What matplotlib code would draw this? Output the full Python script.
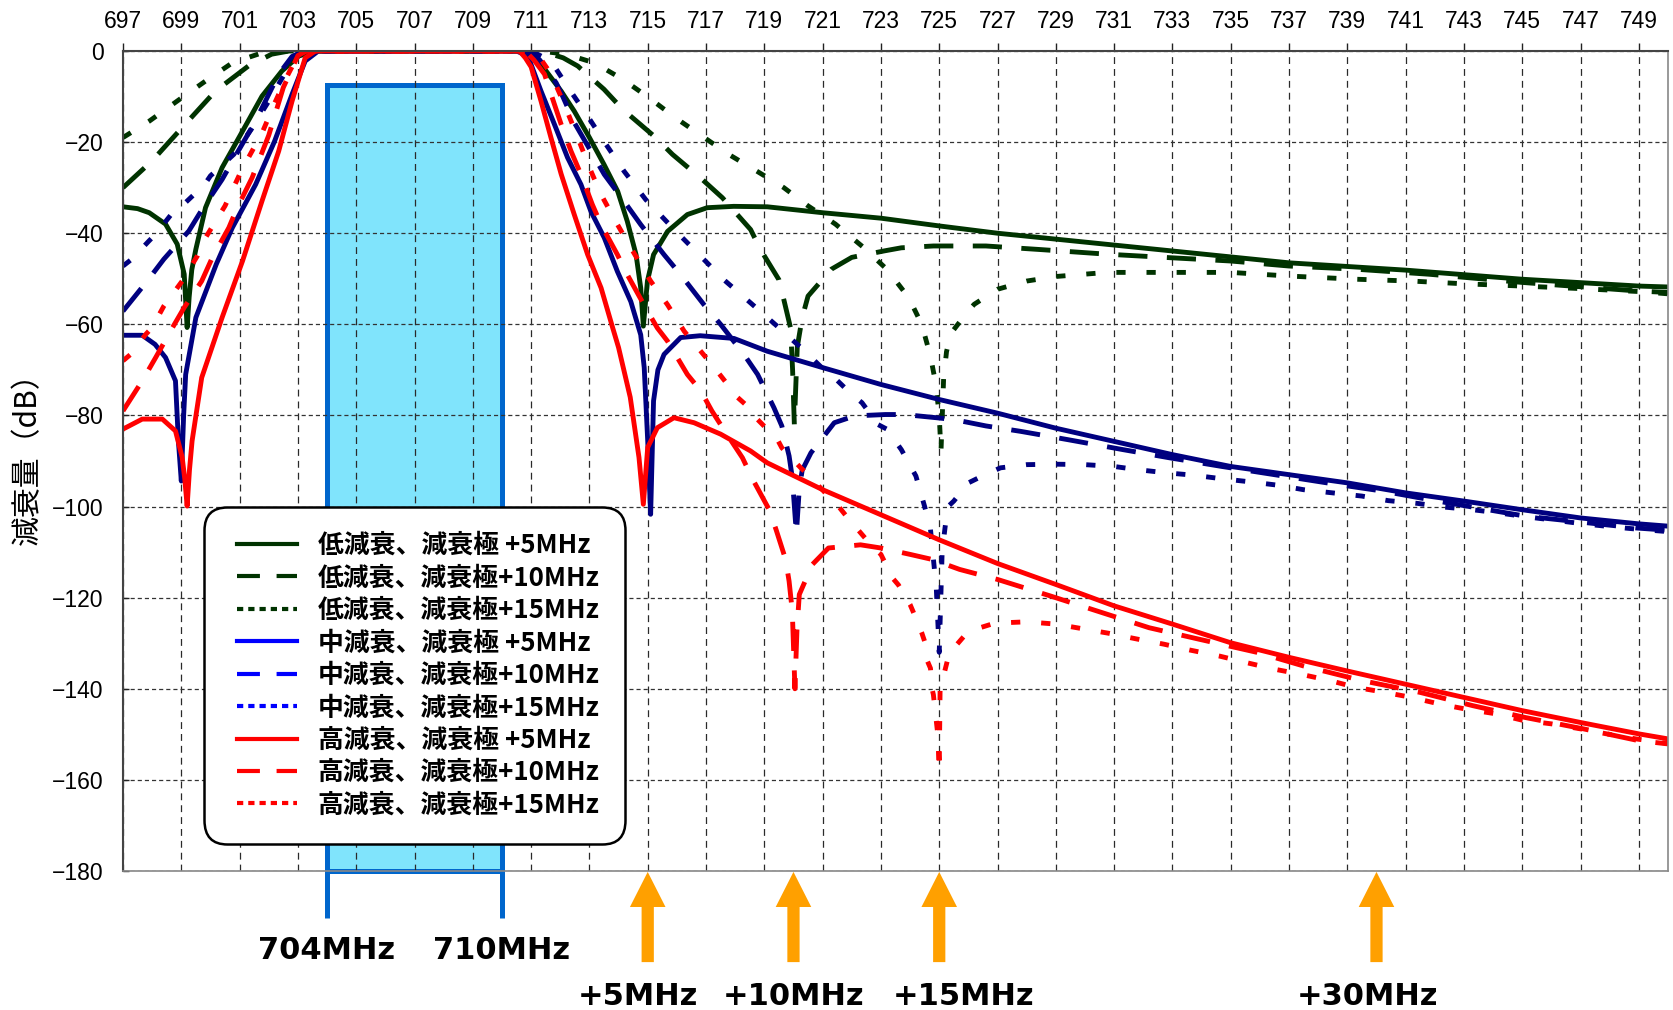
import matplotlib
matplotlib.use('Agg')
import matplotlib.pyplot as plt
from matplotlib.lines import Line2D
from matplotlib.patches import Rectangle, FancyArrow
from matplotlib.legend_handler import HandlerLine2D

plt.rcParams['font.family'] = ['Noto Sans CJK JP', 'DejaVu Sans']
plt.rcParams['axes.unicode_minus'] = True

# ---------------- data (frequency MHz, attenuation dB) ----------------
low5_f = [697.0, 697.5, 697.9, 698.46, 698.86, 699.1, 699.2, 699.27, 699.36, 699.5, 699.83, 700.4, 701.1, 701.77, 702.45, 703.03, 703.6,
          710.6, 711.0, 711.34, 712.03, 712.48, 713.0, 713.5, 713.97, 714.3, 714.6, 714.76, 714.85, 714.99, 715.2, 715.68, 716.36, 717.04,
          717.95, 719.1, 721.0, 723.0, 725.0, 727.0, 729.0, 731.0, 733.0, 737.0, 741.0, 745.0, 749.0, 750.0]
low5_db = [-34.2, -34.6, -35.5, -38.0, -42.4, -49.0, -60.7, -54.0, -48.0, -43.5, -34.4, -25.6, -17.6, -9.9, -4.4, -1.1, 0,
           0, -0.7, -2.9, -8.8, -13.2, -19.0, -24.9, -30.8, -37.4, -44.7, -52.0, -60.4, -50.5, -44.7, -39.6, -35.9, -34.4,
           -34.1, -34.2, -35.5, -36.7, -38.4, -40.0, -41.3, -42.6, -43.9, -46.5, -48.1, -50.1, -51.6, -51.8]

low10_f = [697.0, 698.0, 699.03, 700.17, 701.3, 702.1, 702.7, 711.2, 711.6, 712.1, 712.6, 713.5, 714.14, 715.22, 715.85, 716.87,
           717.56, 718.53, 718.87, 719.5, 719.67, 719.9, 719.97, 720.03, 720.13, 720.3, 720.5, 721.3, 722.0, 723.1, 723.7, 724.8,
           726.6, 728.5, 730.75, 733.0, 735.0, 737.0, 739.3, 741.8, 745.0, 749.0, 750.0]
low10_db = [-30.0, -24.1, -16.8, -8.8, -3.3, -0.7, 0, 0, -0.5, -1.5, -3.3, -8.4, -12.8, -18.7, -22.7, -28.2,
            -32.2, -39.2, -43.6, -50.2, -54.6, -60.8, -70.0, -82.0, -65.0, -58.5, -53.8, -47.9, -45.3, -43.9, -43.2, -42.8,
            -42.8, -43.6, -44.6, -45.4, -46.1, -47.2, -47.9, -49.0, -50.8, -52.7, -53.0]

low15_f = [697.0, 697.9, 699.03, 699.83, 700.75, 701.77, 702.2, 711.3, 712.2, 713.17, 714.14, 715.05, 715.96, 716.87, 717.78,
           718.75, 719.67, 720.5, 721.44, 722.4, 723.2, 723.95, 724.4, 724.7, 724.88, 725.0, 725.06, 725.15, 725.25, 725.4,
           726.0, 726.2, 727.0, 728.0, 729.0, 730.75, 733.0, 735.0, 737.0, 739.3, 741.2, 743.0, 745.0, 746.8, 749.0, 750.0]
low15_db = [-19.0, -15.4, -10.2, -6.6, -2.6, -0.4, 0, 0, -0.7, -2.6, -6.2, -10.3, -14.7, -18.7, -22.7,
            -26.4, -30.0, -34.0, -38.0, -43.1, -47.9, -54.1, -60.0, -67.0, -73.0, -80.0, -88.0, -72.0, -66.0, -62.0,
            -57.0, -55.6, -52.3, -50.5, -49.5, -48.6, -48.6, -48.6, -49.4, -50.1, -50.5, -51.1, -51.6, -52.1, -52.8, -53.3]

mid5_f = [697.0, 697.66, 698.1, 698.46, 698.8, 698.9, 699.0, 699.08, 699.15, 699.5, 700.2, 700.75, 701.55, 702.2, 702.8, 703.25,
          703.7, 710.5, 710.89, 711.34, 711.8, 712.25, 712.71, 713.05, 713.51, 713.96, 714.42, 714.76, 714.88, 715.0, 715.1,
          715.2, 715.35, 715.56, 716.13, 716.8, 717.96, 719.1, 721.0, 723.0, 725.0, 727.0, 729.0, 731.0, 733.0, 735.0, 737.0,
          739.0, 741.0, 743.0, 745.0, 747.0, 749.0, 750.0]
mid5_db = [-62.4, -62.4, -64.4, -67.3, -72.4, -85.6, -94.4, -80.0, -71.0, -58.5, -46.8, -38.8, -29.3, -19.8, -9.5, -2.2,
           0, 0, -1.1, -8.8, -16.1, -23.4, -29.3, -35.2, -41.0, -48.4, -55.0, -62.3, -69.5, -85.6, -101.7,
           -76.8, -70.0, -66.6, -62.9, -62.5, -63.1, -65.9, -69.5, -73.2, -76.5, -79.5, -82.8, -85.7, -88.6, -91.2, -93.0,
           -94.8, -97.0, -98.8, -100.7, -102.5, -103.8, -104.3]

mid10_f = [697.0, 697.83, 698.4, 699.26, 699.72, 700.4, 700.86, 701.49, 701.77, 702.34, 702.8, 703.2, 710.9, 711.3, 711.86,
           712.08, 712.48, 713.05, 713.51, 714.19, 714.76, 715.56, 716.13, 716.93, 717.5, 718.3, 718.77, 719.33, 719.6, 719.85,
           719.96, 720.1, 720.2, 720.3, 720.6, 721.4, 722.1, 723.15, 723.8, 724.9, 725.5, 726.6, 727.8, 729.4, 731.3, 732.9,
           734.7, 736.5, 738.3, 740.2, 742.1, 745.1, 748.9, 750.0]
mid10_db = [-57.1, -50.5, -45.7, -39.5, -34.7, -28.2, -23.0, -16.0, -12.5, -5.1, -1.2, 0, 0, -2.0, -7.0,
            -9.9, -15.7, -22.0, -27.1, -33.0, -38.1, -44.7, -49.1, -55.7, -60.0, -66.6, -71.0, -78.3, -82.3, -88.9,
            -93.7, -106.0, -96.0, -92.0, -88.2, -81.6, -80.1, -79.8, -79.8, -80.5, -80.9, -82.3, -83.5, -85.3, -87.5, -89.3,
            -91.2, -93.0, -94.8, -96.6, -98.8, -102.1, -104.7, -105.2]

mid15_f = [697.0, 697.3, 697.89, 698.12, 698.75, 699.09, 699.8, 700.0, 700.8, 701.4, 702.0, 702.6, 703.0, 703.3, 711.0, 711.68,
           712.31, 712.94, 713.57, 714.19, 714.93, 715.85, 716.7, 717.61, 718.53, 719.44, 720.2, 720.5, 721.1, 721.4, 722.0,
           722.35, 722.9, 723.2, 723.7, 724.2, 724.5, 724.7, 724.9, 725.0, 725.1, 725.2, 725.3, 725.5, 726.0, 726.35, 727.1,
           728.0, 729.0, 730.0, 731.0, 731.8, 732.8, 733.7, 734.7, 735.7, 736.6, 737.5, 738.5, 739.5, 740.4, 741.4, 742.3,
           743.3, 744.2, 745.2, 746.1, 747.1, 748.0, 749.0, 750.0]
mid15_db = [-47.2, -45.7, -41.7, -40.2, -35.1, -33.6, -29.3, -27.4, -22.7, -17.2, -11.0, -4.4, -1.0, 0, 0, -2.2,
            -8.4, -14.3, -20.5, -26.4, -32.6, -38.8, -44.3, -50.2, -55.3, -60.4, -64.8, -66.6, -70.3, -71.7, -75.4,
            -77.2, -82.0, -83.0, -87.5, -93.3, -100.0, -105.0, -118.0, -132.0, -110.0, -104.6, -100.0, -98.8, -94.8, -93.7, -91.5,
            -90.8, -90.7, -90.8, -91.2, -91.9, -92.6, -93.1, -93.9, -94.6, -95.3, -96.3, -97.0, -97.7, -98.7, -99.3, -100.1,
            -100.7, -101.4, -102.3, -103.0, -103.8, -104.4, -105.0, -105.5]

high5_f = [697.0, 697.66, 698.35, 698.8, 699.03, 699.12, 699.2, 699.28, 699.37, 699.7, 700.4, 701.1, 701.77, 702.34, 702.8,
           703.25, 703.6, 710.6, 710.8, 711.0, 711.34, 711.68, 712.03, 712.48, 712.94, 713.4, 713.8, 714.0, 714.4, 714.7,
           714.85, 715.0, 715.33, 715.9, 716.59, 717.5, 718.53, 719.1, 721.0, 723.0, 725.0, 727.0, 729.0, 731.0, 733.0,
           735.0, 737.0, 739.0, 741.0, 743.0, 745.0, 747.0, 749.0, 750.0]
high5_db = [-83.0, -80.8, -80.8, -83.4, -89.2, -94.0, -99.9, -92.0, -85.6, -71.7, -58.5, -46.1, -32.9, -22.0, -11.0,
            -1.5, 0, 0, -1.5, -3.5, -11.0, -19.0, -27.0, -35.9, -44.7, -52.0, -60.8, -65.1, -76.0, -89.2,
            -99.5, -87.0, -82.7, -80.5, -81.6, -84.1, -87.8, -90.4, -96.3, -101.8, -107.3, -112.5, -117.1, -121.8, -125.8,
            -129.9, -133.1, -136.1, -139.0, -141.9, -144.8, -147.4, -149.9, -151.0]

high10_f = [697.0, 697.66, 698.12, 698.7, 699.1, 699.7, 700.06, 700.63, 700.92, 701.43, 702.0, 702.5, 703.0, 703.3, 710.8,
            711.1, 711.46, 711.8, 712.03, 712.37, 712.71, 713.1, 713.4, 713.96, 714.3, 714.93, 715.33, 715.68, 716.36, 716.83,
            717.2, 717.6, 718.25, 718.6, 719.16, 719.4, 719.73, 719.85, 719.96, 720.05, 720.12, 720.2, 720.65, 721.2, 722.3,
            723.0, 724.0, 724.75, 725.7, 727.0, 728.8, 730.4, 732.2, 733.9, 735.9, 737.5, 739.5, 741.5, 743.3, 745.1, 747.1,
            749.0, 750.0]
high10_db = [-79.0, -72.4, -67.3, -60.7, -56.3, -50.5, -45.4, -38.8, -34.4, -27.8, -18.5, -8.0, -1.0, 0, 0,
             -2.0, -5.1, -11.7, -16.1, -22.0, -27.1, -33.7, -38.1, -44.7, -49.1, -56.4, -60.8, -63.7, -71.0, -74.7,
             -79.0, -83.0, -89.3, -94.0, -100.6, -105.0, -111.6, -116.4, -123.0, -140.0, -127.0, -119.3, -112.7, -109.1, -108.4,
             -109.1, -110.5, -111.6, -113.8, -116.0, -119.6, -122.9, -126.6, -129.1, -132.0, -135.0, -138.2, -140.8, -143.7, -146.3, -148.8,
             -151.4, -152.1]

high15_f = [697.0, 697.26, 697.78, 698.0, 698.4, 699.03, 699.55, 699.83, 700.5, 701.08, 701.77, 702.2, 702.57, 702.9, 703.2,
            710.9, 711.3, 711.68, 712.14, 712.6, 713.0, 713.4, 713.9, 714.42, 715.1, 715.68, 716.25, 717.0, 717.2, 717.74,
            717.9, 718.6, 718.77, 719.45, 719.6, 720.25, 720.5, 721.15, 721.4, 721.95, 722.2, 722.75, 723.0, 723.4, 723.6,
            724.0, 724.1, 724.4, 724.5, 724.6, 724.7, 724.75, 724.8, 724.95, 725.0, 725.03, 725.1, 725.3, 725.4, 725.9,
            726.2, 726.9, 728.0, 729.0, 729.9, 730.8, 731.8, 732.7, 733.6, 734.6, 735.5, 736.5, 737.4, 738.4, 739.3,
            740.3, 741.2, 742.2, 743.1, 744.1, 745.0, 746.0, 747.0, 747.9, 748.9, 750.0]
high15_db = [-68.0, -66.6, -62.2, -60.7, -56.0, -50.5, -45.0, -41.0, -34.0, -26.0, -18.0, -11.5, -6.3, -2.2, 0,
             0, -1.5, -5.0, -11.7, -19.0, -25.6, -31.5, -37.4, -43.2, -50.5, -55.7, -61.5, -67.3, -68.8, -73.2,
             -75.0, -79.0, -80.9, -85.3, -87.1, -91.5, -93.0, -97.4, -98.8, -103.2, -105.0, -109.1, -110.5, -115.7, -117.2,
             -121.5, -123.0, -127.7, -129.6, -134.0, -135.5, -139.9, -141.3, -150.0, -158.0, -140.0, -138.4, -133.3, -131.8, -128.1,
             -127.0, -125.6, -125.3, -125.8, -126.8, -127.8, -129.1, -130.2, -131.5, -132.8, -134.2, -135.7, -136.8, -138.2, -139.7,
             -140.8, -141.9, -143.4, -144.5, -145.5, -146.9, -147.7, -148.8, -149.9, -151.0, -152.0]

series_labels = ['低減衰、減衰極 +5MHz', '低減衰、減衰極+10MHz', '低減衰、減衰極+15MHz',
                 '中減衰、減衰極 +5MHz', '中減衰、減衰極+10MHz', '中減衰、減衰極+15MHz',
                 '高減衰、減衰極 +5MHz', '高減衰、減衰極+10MHz', '高減衰、減衰極+15MHz']

x_ticks = list(range(697, 750, 2))
y_ticks = list(range(-180, 1, 20))

band_edges = [704, 710]           # MHz, passband
band_top = -7.5                   # dB, top of passband marker
band_labels = ['704MHz', '710MHz']

notch_marks = [715, 720, 725, 740]
notch_label_x = [714.65, 720.02, 725.85, 739.7]
notch_labels = ['+5MHz', '+10MHz', '+15MHz', '+30MHz']

# ---------------- styles ----------------
C_LOW = '#003300'
C_MID = '#000080'
C_MID_LEG = '#0000FF'
C_HIGH = '#FF0000'
LW = 3.5
DASHED = (0, (6.0, 4.0))
DOTTED = (0, (1.9, 4.3))

series = [
    (low5_f, low5_db, C_LOW, '-'), (low10_f, low10_db, C_LOW, DASHED), (low15_f, low15_db, C_LOW, DOTTED),
    (mid5_f, mid5_db, C_MID, '-'), (mid10_f, mid10_db, C_MID, DASHED), (mid15_f, mid15_db, C_MID, DOTTED),
    (high5_f, high5_db, C_HIGH, '-'), (high10_f, high10_db, C_HIGH, DASHED), (high15_f, high15_db, C_HIGH, DOTTED),
]

fig = plt.figure(figsize=(16.73, 10.10), dpi=100)
W, H = 1673, 1010
ax = fig.add_axes([123 / W, 1 - 871 / H, 1545 / W, 820 / H])
ax.set_xlim(697, 750)
ax.set_ylim(-180, 0)

# passband marker
rect = Rectangle((band_edges[0], -180), band_edges[1] - band_edges[0], band_top + 180,
                 facecolor='#80E4FC', edgecolor='#0066CC', linewidth=3.6, zorder=0.8, clip_on=False)
ax.add_patch(rect)
for bx in band_edges:
    ax.plot([bx, bx], [-180, -190.4], color='#0066CC', lw=3.6, clip_on=False, solid_capstyle='butt', zorder=0.8)

# curves
for f, db, c, ls in series:
    assert len(f) == len(db)
    ax.plot(f, db, color=c, lw=LW, linestyle=ls, zorder=2)

# grid
ax.set_xticks(x_ticks)
ax.set_yticks(y_ticks)
ax.xaxis.grid(True, linestyle=(0, (5.5, 4.0)), color='#2a2a2a', linewidth=0.9)
ax.yaxis.grid(True, linestyle=(0, (3.3, 2.4)), color='#333333', linewidth=0.9)

ax.xaxis.tick_top()
tick_font = ['Liberation Sans', 'DejaVu Sans']
ax.tick_params(axis='x', which='major', direction='out', length=5.8, width=1.0, pad=7.0,
               labelsize=16.5, colors='#222222', labelcolor='black', labelfontfamily=tick_font)
ax.tick_params(axis='y', which='major', direction='in', length=4, width=1.0, pad=14,
               labelsize=16.5, colors='#222222', labelcolor='black', labelfontfamily=tick_font)

for side in ['left', 'top']:
    ax.spines[side].set_color('#444444')
    ax.spines[side].set_linewidth(1.5)
for side in ['right', 'bottom']:
    ax.spines[side].set_color('#888888')
    ax.spines[side].set_linewidth(1.2)

# y label
ax.text(-0.0621, 0.512, '減衰量（dB）', transform=ax.transAxes, rotation=90, ha='center', va='center',
        fontsize=21.5, family=['Noto Sans CJK JP', 'DejaVu Sans'], color='black')

# band labels
for bx, bl in zip(band_edges, band_labels):
    ax.text(bx, -199.4, bl, ha='center', va='baseline', fontsize=22, fontweight='bold',
            family=['DejaVu Sans'], clip_on=False)

# notch arrows + labels
for mx in notch_marks:
    arr = FancyArrow(mx, -200.0, 0, 19.8, width=0.42, head_width=1.22, head_length=7.7,
                     length_includes_head=True, color='#FFA000', linewidth=0, clip_on=False, zorder=3)
    ax.add_patch(arr)
for lx, lt in zip(notch_label_x, notch_labels):
    ax.text(lx, -209.5, lt, ha='center', va='baseline', fontsize=22, fontweight='bold',
            family=['DejaVu Sans'], clip_on=False)

# legend
leg_colors = [C_LOW] * 3 + [C_MID_LEG] * 3 + [C_HIGH] * 3
leg_styles = ['-', (0, (5.5, 4.0)), (0, (1.5, 1.2))] * 3
handles = [Line2D([], [], color=c, lw=3.0, linestyle=s) for c, s in zip(leg_colors, leg_styles)]
leg = ax.legend(handles, series_labels, loc='upper left', bbox_to_anchor=(0.0524, 0.4439),
                borderaxespad=0, borderpad=0.97, labelspacing=0.21, handlelength=2.64, handletextpad=0.8,
                handler_map={Line2D: HandlerLine2D(xpad=0.31)},
                prop=dict(family=['Noto Sans CJK JP', 'DejaVu Sans'], weight='bold', size=18.6),
                frameon=True, fancybox=True, framealpha=1, edgecolor='black', facecolor='white')
leg.get_frame().set_linewidth(1.8)
leg.get_frame().set_boxstyle('round', pad=0, rounding_size=0.9)
leg.set_zorder(5)

fig.savefig('out.png', dpi=100, facecolor='white')
